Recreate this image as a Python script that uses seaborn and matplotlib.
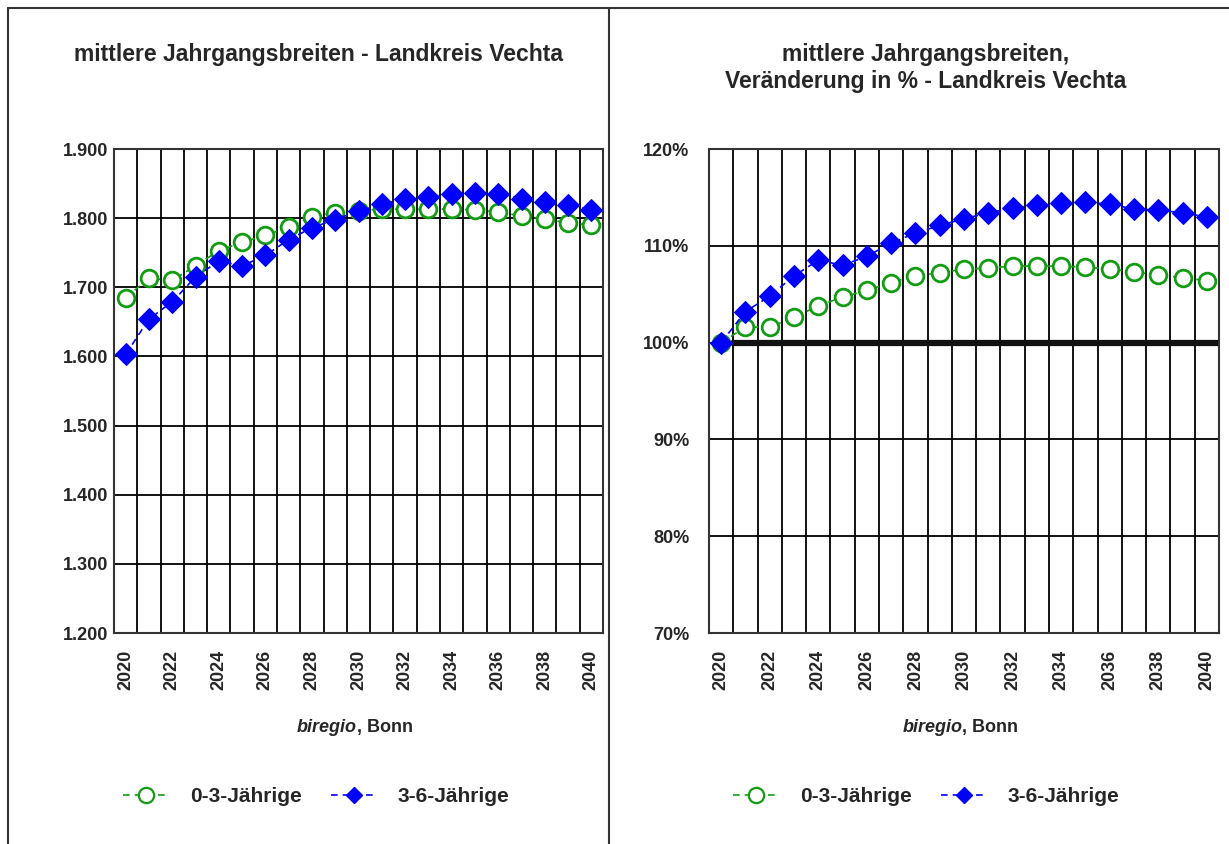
import numpy as np
import pandas as pd
import matplotlib
matplotlib.use("Agg")
import matplotlib.pyplot as plt
from matplotlib.lines import Line2D
import seaborn as sns

years = list(range(2020, 2041))

# mittlere Jahrgangsbreiten (absolute)
abs_0_3 = [1685, 1713, 1710, 1731, 1753, 1765, 1775, 1787, 1802, 1808, 1811,
           1813, 1813, 1813, 1813, 1812, 1809, 1803, 1799, 1793, 1790]
abs_3_6 = [1603, 1654, 1679, 1715, 1738, 1731, 1746, 1769, 1786, 1798, 1810,
           1820, 1828, 1831, 1835, 1836, 1835, 1828, 1824, 1819, 1812]

# Veraenderung in % (2020 = 100)
pct_0_3 = [100.0, 101.6, 101.6, 102.6, 103.8, 104.7, 105.4, 106.2, 106.9, 107.2, 107.6,
           107.7, 107.9, 107.9, 107.9, 107.8, 107.6, 107.3, 107.0, 106.7, 106.4]
pct_3_6 = [100.0, 103.2, 104.8, 106.9, 108.5, 108.0, 108.9, 110.3, 111.3, 112.1, 112.8,
           113.4, 113.9, 114.2, 114.4, 114.5, 114.3, 113.8, 113.7, 113.4, 113.0]

series_names = ["0-3-Jährige", "3-6-Jährige"]
left_yticks = [1200, 1300, 1400, 1500, 1600, 1700, 1800, 1900]
left_yticklabels = ["1.200", "1.300", "1.400", "1.500", "1.600", "1.700", "1.800", "1.900"]
right_yticks = [70, 80, 90, 100, 110, 120]
right_yticklabels = ["70%", "80%", "90%", "100%", "110%", "120%"]

GREEN = "#129c12"
BLUE = "#0000ff"

sns.set_style("white")
plt.rcParams["font.family"] = ["Liberation Sans", "DejaVu Sans"]

fig = plt.figure(figsize=(12.29, 8.44), dpi=100)
W, H = 1229, 844


def px_axes(x0, x1, y0, y1):
    return fig.add_axes([x0 / W, 1 - y1 / H, (x1 - x0) / W, (y1 - y0) / H])


def draw_panel(ax, s1, s2, yticks, yticklabels, ylim, ypad, panel_center):
    idx = np.arange(len(years))
    df = pd.DataFrame({"pos": idx, "a": s1, "b": s2})
    sns.lineplot(data=df, x="pos", y="a", ax=ax, color=GREEN, lw=1.2,
                 linestyle=(0, (4, 3)), marker="o", markersize=12,
                 markerfacecolor="white", markeredgecolor=GREEN,
                 markeredgewidth=2, zorder=3)
    sns.lineplot(data=df, x="pos", y="b", ax=ax, color=BLUE, lw=1.2,
                 linestyle=(0, (4, 3)), marker="D", markersize=11,
                 markerfacecolor=BLUE, markeredgecolor=BLUE, zorder=4)
    ax.set_xlim(-0.5, len(years) - 0.5)
    ax.set_ylim(*ylim)
    ax.set_yticks(yticks)
    ax.set_yticklabels(yticklabels, fontsize=13, fontweight="bold")
    ax.set_xticks(idx[::2])
    ax.set_xticklabels([str(y) for y in years[::2]], rotation=90,
                       fontsize=13, fontweight="bold")
    ax.set_xticks(np.arange(-0.5, len(years), 1.0), minor=True)
    ax.tick_params(axis="both", which="both", length=0)
    ax.tick_params(axis="y", pad=ypad)
    ax.tick_params(axis="x", pad=12)
    ax.grid(True, which="minor", axis="x", color="black", lw=1.3)
    ax.grid(True, which="major", axis="y", color="black", lw=1.3)
    ax.set_axisbelow(True)
    for s in ax.spines.values():
        s.set_visible(True)
        s.set_color("#333333")
        s.set_linewidth(1.5)
    ax.set_xlabel("")
    ax.set_ylabel("")
    # source note: "biregio" bold italic, ", Bonn" bold
    ax.text(0.497, -0.195, "biregio", transform=ax.transAxes, ha="right",
            va="center", fontsize=13, fontweight="bold", fontstyle="italic")
    ax.text(0.497, -0.195, ", Bonn", transform=ax.transAxes, ha="left",
            va="center", fontsize=13, fontweight="bold")
    handles = [
        Line2D([], [], color=GREEN, lw=1.2, linestyle=(0, (4, 3)), marker="o",
               markersize=11, markerfacecolor="white", markeredgecolor=GREEN,
               markeredgewidth=1.6),
        Line2D([], [], color=BLUE, lw=1.2, linestyle=(0, (4, 3)), marker="D",
               markersize=8, markerfacecolor=BLUE, markeredgecolor=BLUE),
    ]
    fig.legend(handles, series_names, loc="center",
               bbox_to_anchor=(panel_center / W, 1 - 797 / H),
               ncol=2, frameon=False, handlelength=2.2, columnspacing=1.4,
               handletextpad=1.0, prop={"size": 15, "weight": "bold"})


ax1 = px_axes(114, 603, 149, 633)
draw_panel(ax1, abs_0_3, abs_3_6, left_yticks, left_yticklabels, (1200, 1900), 4, 316)
fig.text(318 / W, 1 - 54 / H, "mittlere Jahrgangsbreiten - Landkreis Vechta",
         ha="center", va="center", fontsize=16.5, fontweight="bold")

ax2 = px_axes(709, 1219, 149, 633)
draw_panel(ax2, pct_0_3, pct_3_6, right_yticks, right_yticklabels, (70, 120), 14, 926)
ax2.axhline(100, color="#111111", lw=4.5, xmin=1 / 21, zorder=2)
fig.text(926 / W, 1 - 68 / H, "mittlere Jahrgangsbreiten,\nVeränderung in % - Landkreis Vechta",
         ha="center", va="center", fontsize=16.5, fontweight="bold", linespacing=1.25)

# outer frame lines
fig.add_artist(Line2D([8 / W, 1], [1 - 8 / H, 1 - 8 / H], color="#333333", lw=1.5))
fig.add_artist(Line2D([8 / W, 8 / W], [0, 1 - 8 / H], color="#333333", lw=1.5))
fig.add_artist(Line2D([609 / W, 609 / W], [0, 1 - 8 / H], color="#333333", lw=1.5))

fig.savefig("out.png", dpi=100)
